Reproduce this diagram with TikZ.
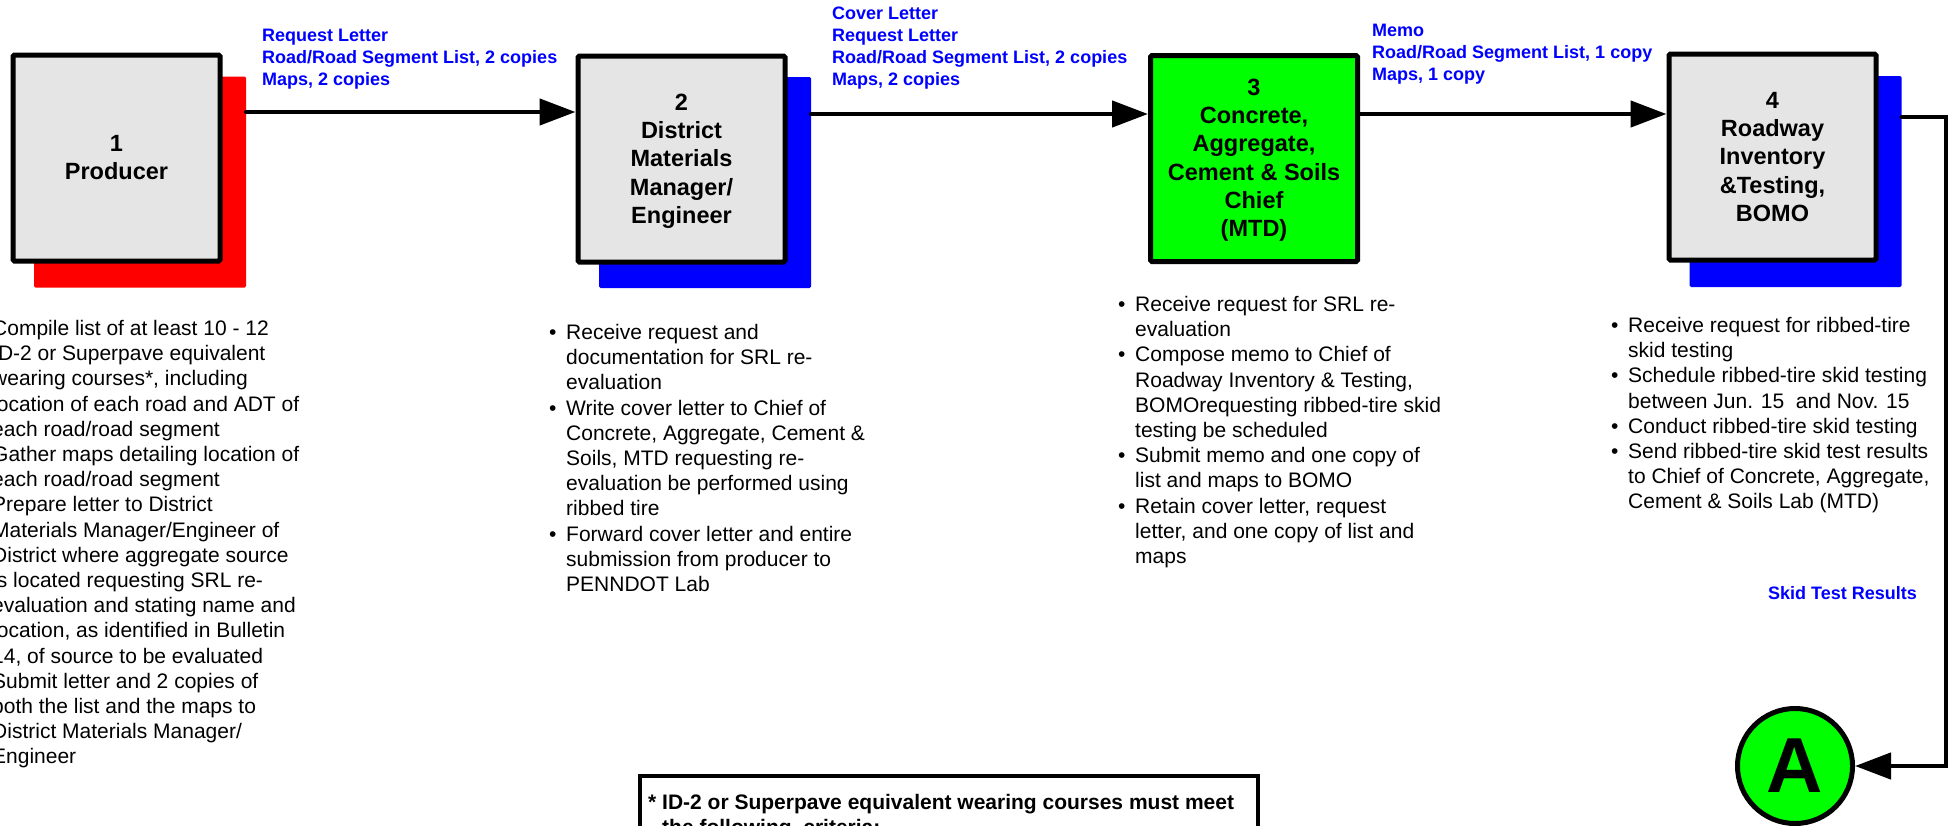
\documentclass[tikz,border=0pt]{standalone}
\usepackage{fontspec}
\setmainfont{Liberation Sans}
\usetikzlibrary{arrows.meta}
\definecolor{pblue}{RGB}{0,0,255}
\definecolor{pred}{RGB}{255,0,0}
\definecolor{pgreen}{RGB}{0,255,0}
\definecolor{pgray}{RGB}{229,229,229}
\newcommand{\blt}{\makebox[17pt][l]{•}}
\begin{document}
\begin{tikzpicture}[x=1pt,y=-1pt,
  box/.style={draw=black, line width=5pt, fill=#1, minimum width=207pt, minimum height=206pt, rounded corners=1.5pt, inner sep=0pt},
  box/.default=pgray,
  shadowbox/.style={fill=#1, minimum width=212pt, minimum height=211pt, inner sep=0pt, rounded corners=1.5pt},
  boxtext/.style={anchor=base, inner sep=0pt, font=\fontsize{23.5pt}{28.2pt}\selectfont\bfseries},
  flowlabel/.style={anchor=base west, inner sep=0pt, text=pblue, font=\fontsize{18pt}{22pt}\selectfont\bfseries},
  bullets/.style={anchor=base west, inner sep=0pt, font=\fontsize{21pt}{25.2pt}\selectfont},
  flow/.style={line width=4.5pt, -{Triangle[length=36pt,width=26pt]}, line cap=round}
]
\fill[white] (0,0) rectangle (1953,825);
\useasboundingbox (0,0) rectangle (1953,825);

% boxes
\node[shadowbox=pred] (sh1) at (140,182) {};
\node[box] (b1) at (116.5,158) {};
\node[boxtext] (t1) at (116.5,151.5) {\begin{tabular}[t]{@{}c@{}}1\\Producer\end{tabular}};

\node[shadowbox=pblue] (sh2) at (705,182.5) {};
\node[box] (b2) at (681.5,159) {};
\node[boxtext] (t2) at (681.5,110.5) {\begin{tabular}[t]{@{}c@{}}2\\District\\Materials\\Manager/\\Engineer\end{tabular}};

\node[box=pgreen] (b3) at (1254,158.5) {};
\node[boxtext] (t3) at (1254,95.5) {\begin{tabular}[t]{@{}c@{}}3\\Concrete,\\Aggregate,\\Cement \& Soils\\Chief\\(MTD)\end{tabular}};

\node[shadowbox=pblue] (sh4) at (1795.5,181.5) {};
\node[box] (b4) at (1772.5,157) {};
\node[boxtext] (t4) at (1772.5,108.5) {\begin{tabular}[t]{@{}c@{}}4\\Roadway\\Inventory\\\&Testing,\\BOMO\end{tabular}};

% connector A
\node[circle, draw=black, line width=5pt, fill=pgreen, minimum size=115pt, inner sep=0pt, font=\fontsize{78pt}{78pt}\selectfont\bfseries] (cA) at (1795,766) {A};

% flows
\coordinate (y1) at (0,112);
\coordinate (y2) at (0,114);
\coordinate (turn) at (1946,117);
\draw[flow] (sh1.east |- y1) -- (b2.west |- y1);
\draw[flow] (sh2.east |- y2) -- (b3.west |- y2);
\draw[flow] (b3.east |- y2) -- (b4.west |- y2);
\draw[flow] (sh4.east |- turn) -- (turn) |- (cA.east);

% flow labels
\node[flowlabel] (l1) at (262,41.5) {\begin{tabular}[t]{@{}l@{}}Request Letter\\Road/Road Segment List, 2 copies\\Maps, 2 copies\end{tabular}};
\node[flowlabel] (l2) at (832,19.5) {\begin{tabular}[t]{@{}l@{}}Cover Letter\\Request Letter\\Road/Road Segment List, 2 copies\\Maps, 2 copies\end{tabular}};
\node[flowlabel] (l3) at (1372,36.5) {\begin{tabular}[t]{@{}l@{}}Memo\\Road/Road Segment List, 1 copy\\Maps, 1 copy\end{tabular}};
\node[flowlabel] (skid) at (1768,599.5) {Skid Test Results};

% bullet lists
\node[bullets] (n1) at (-25,335.5) {\begin{tabular}[t]{@{}l@{}l@{}}
\blt & Compile list of at least 10 - 12\\
 & ID-2 or Superpave equivalent\\
 & wearing courses*, including\\
 & location of each road and ADT of\\
 & each road/road segment\\
\blt & Gather maps detailing location of\\
 & each road/road segment\\
\blt & Prepare letter to District\\
 & Materials Manager/Engineer of\\
 & District where aggregate source\\
 & is located requesting SRL re-\\
 & evaluation and stating name and\\
 & location, as identified in Bulletin\\
 & 14, of source to be evaluated\\
\blt & Submit letter and 2 copies of\\
 & both the list and the maps to\\
 & District Materials Manager/\\
 & Engineer
\end{tabular}};

\node[bullets] (n2) at (549,339.5) {\begin{tabular}[t]{@{}l@{}l@{}}
\blt & Receive request and\\
 & documentation for SRL re-\\
 & evaluation\\
\blt & Write cover letter to Chief of\\
 & Concrete, Aggregate, Cement \&\\
 & Soils, MTD requesting re-\\
 & evaluation be performed using\\
 & ribbed tire\\
\blt & Forward cover letter and entire\\
 & submission from producer to\\
 & PENNDOT Lab
\end{tabular}};

\node[bullets] (n3) at (1118,311.5) {\begin{tabular}[t]{@{}l@{}l@{}}
\blt & Receive request for SRL re-\\
 & evaluation\\
\blt & Compose memo to Chief of\\
 & Roadway Inventory \& Testing,\\
 & BOMOrequesting ribbed-tire skid\\
 & testing be scheduled\\
\blt & Submit memo and one copy of\\
 & list and maps to BOMO\\
\blt & Retain cover letter, request\\
 & letter, and one copy of list and\\
 & maps
\end{tabular}};

\node[bullets] (n4) at (1611,332.5) {\begin{tabular}[t]{@{}l@{}l@{}}
\blt & Receive request for ribbed-tire\\
 & skid testing\\
\blt & Schedule ribbed-tire skid testing\\
 & between Jun. 15\ \ and Nov. 15\\
\blt & Conduct ribbed-tire skid testing\\
\blt & Send ribbed-tire skid test results\\
 & to Chief of Concrete, Aggregate,\\
 & Cement \& Soils Lab (MTD)
\end{tabular}};

% footnote
\node[draw=black, line width=4pt, anchor=north west, minimum width=618pt, minimum height=150pt, inner sep=0pt] (fn) at (638,774) {};
\node[anchor=base west, inner sep=0pt, font=\fontsize{21pt}{25.2pt}\selectfont\bfseries] (fnt) at (648,809.5) {\begin{tabular}[t]{@{}l@{}}* ID-2 or Superpave equivalent wearing courses must meet\\\hspace{14pt}the following\ \ criteria:\end{tabular}};
\end{tikzpicture}
\end{document}
